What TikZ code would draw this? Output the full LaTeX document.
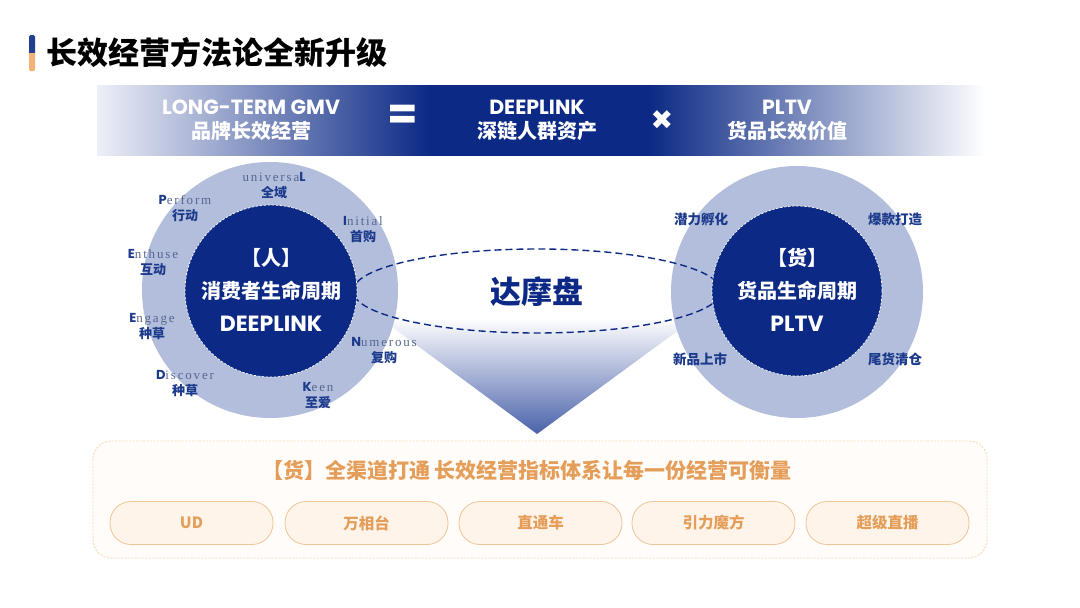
\documentclass[tikz,border=0pt]{standalone}
\usepackage{fontspec}
\setmainfont{Noto Sans CJK SC}
\newfontfamily\pop{Poppins}
\newfontfamily\ser{Liberation Serif}[LetterSpace=14]
\newfontfamily\dv{DejaVu Sans}
\usetikzlibrary{shapes.geometric}
\definecolor{navy}{HTML}{0C2A85}
\definecolor{navylt}{HTML}{EEF0F7}
\definecolor{ring}{HTML}{B3BEDC}
\definecolor{labc}{HTML}{1C3A8C}
\definecolor{serc}{HTML}{56668F}
\definecolor{otext}{HTML}{E59E5A}
\definecolor{pfill}{HTML}{FEF4EA}
\definecolor{pline}{HTML}{EFC595}
\definecolor{bline}{HTML}{F7D6B4}
\definecolor{bfill}{HTML}{FFFCF9}
\definecolor{fun}{HTML}{4A62AA}
\definecolor{accor}{HTML}{F2B27A}
\pgfdeclarehorizontalshading{bannersh}{100bp}{color(0bp)=(navylt); color(25bp)=(navylt); color(43.7bp)=(navy); color(56.1bp)=(navy); color(75bp)=(white); color(100bp)=(white)}
\begin{document}
\begin{tikzpicture}[x=1pt,y=-1pt,
  bannertxt/.style={text=white,font=\bfseries\fontsize{20}{22}\selectfont,inner sep=0},
  bannerlat/.style={text=white,font=\pop\bfseries\fontsize{20.5}{22}\selectfont,inner sep=0},
  incirc/.style={text=white,font=\bfseries\fontsize{20}{33}\selectfont,align=center,inner sep=0},
  lab/.style={align=center,inner sep=0,text=labc,font=\bfseries\fontsize{13}{16}\selectfont},
  pill/.style={draw=pline,fill=pfill,line width=0.8pt,rounded corners=21pt,minimum width=163pt,minimum height=43pt,text=otext,font=\bfseries\fontsize{15.5}{18}\selectfont},
]
\useasboundingbox (0,0) rectangle (1080,608);
\fill[white] (0,0) rectangle (1080,608);
% title
\fill[navy!90,rounded corners=1.5pt] (29,35) rectangle (35,54);
\fill[accor,rounded corners=1.5pt] (29,52) rectangle (35,71);
\fill[navy!90] (29,50) rectangle (35,53);
\node[anchor=west,inner sep=0,font=\bfseries\fontsize{31}{34}\selectfont] (title) at (46,53) {长效经营方法论全新升级};
% banner
\shade[shading=bannersh] (97,85) rectangle (985,155);
\node[bannerlat] (b1a) at (251,107) {LONG-TERM GMV};
\node[bannertxt] (b1b) at (251,131) {品牌长效经营};
\node[text=white,font=\pop\bfseries\fontsize{44}{44}\selectfont,inner sep=0] (eq) at (403,117) {=};
\node[bannerlat] (b2a) at (537,107) {DEEPLINK};
\node[bannertxt] (b2b) at (537,131) {深链人群资产};
\node[text=white,font=\dv\fontsize{27}{27}\selectfont,inner sep=0] (times) at (662,120) {✖};
\node[bannerlat] (b3a) at (787,107) {PLTV};
\node[bannertxt] (b3b) at (787,131) {货品长效价值};
% funnel
\shade[top color=white,bottom color=fun] (380,318) -- (695,318) -- (537,434) -- cycle;
% outer circles
\node[circle,fill=ring,minimum size=256pt,inner sep=0] (louter) at (270,290) {};
\node[circle,fill=ring,minimum size=252pt,inner sep=0] (router) at (797,292) {};
% ellipse
\node[ellipse,draw=navy,dashed,dash pattern=on 7pt off 4pt,line width=1.4pt,minimum width=368pt,minimum height=84pt,inner sep=0] (dmp) at (537,291) {};
\node[text=navy,font=\bfseries\fontsize{31}{33}\selectfont,inner sep=0] (dmpt) at (537,292) {达摩盘};
% inner circles
\node[circle,fill=navy,draw=white,dashed,line width=0.7pt,dash pattern=on 2.5pt off 1.5pt,minimum size=172pt,inner sep=0] (linner) at (271,291) {};
\node[circle,fill=navy,draw=white,dashed,line width=0.7pt,dash pattern=on 2.5pt off 1.5pt,minimum size=170pt,inner sep=0] (rinner) at (797,291) {};
\node[incirc] (lt1) at (271,258) {【人】};
\node[incirc] (lt2) at (271,291) {消费者生命周期};
\node[incirc,font=\pop\bfseries\fontsize{22}{24}\selectfont] (lt3) at (271,324) {DEEPLINK};
\node[incirc] (rt1) at (797,258) {【货】};
\node[incirc] (rt2) at (797,291) {货品生命周期};
\node[incirc,font=\pop\bfseries\fontsize{22}{24}\selectfont] (rt3) at (797,324) {PLTV};
% left labels
\newcommand{\lb}[2]{{\pop\bfseries #1}{\ser\mdseries\color{serc}#2}}
\node[lab] (lL) at (274,186) {{\ser\mdseries\color{serc}universa}{\pop\bfseries L}\\全域};
\node[lab] (lP) at (185,209) {\lb{P}{erform}\\行动};
\node[lab] (lI) at (363,230) {\lb{I}{nitial}\\首购};
\node[lab] (lE1) at (153,263) {\lb{E}{nthuse}\\互动};
\node[lab] (lE2) at (152,327) {\lb{E}{ngage}\\种草};
\node[lab] (lD) at (185,384) {\lb{D}{iscover}\\种草};
\node[lab] (lK) at (318,396) {\lb{K}{een}\\至爱};
\node[lab] (lN) at (384,351) {\lb{N}{umerous}\\复购};
% right labels
\node[lab,font=\bfseries\fontsize{13.5}{16}\selectfont] (r1) at (701,219) {潜力孵化};
\node[lab,font=\bfseries\fontsize{13.5}{16}\selectfont] (r2) at (895,219) {爆款打造};
\node[lab,font=\bfseries\fontsize{13.5}{16}\selectfont] (r3) at (700,359) {新品上市};
\node[lab,font=\bfseries\fontsize{13.5}{16}\selectfont] (r4) at (895,359) {尾货清仓};
% bottom box
\draw[draw=bline,fill=bfill,dashed,dash pattern=on 2pt off 1.5pt,line width=0.9pt,rounded corners=18pt] (93,441) rectangle (987,558);
\node[text=otext,font=\bfseries\fontsize{21}{24}\selectfont,inner sep=0] (btitle) at (527,471) {【货】全渠道打通 长效经营指标体系让每一份经营可衡量};
\node[pill] (p1) at (191.5,523) {UD};
\node[pill] (p2) at (366.5,523) {万相台};
\node[pill] (p3) at (540.5,523) {直通车};
\node[pill] (p4) at (713.5,523) {引力魔方};
\node[pill] (p5) at (887.5,523) {超级直播};
\end{tikzpicture}
\end{document}
